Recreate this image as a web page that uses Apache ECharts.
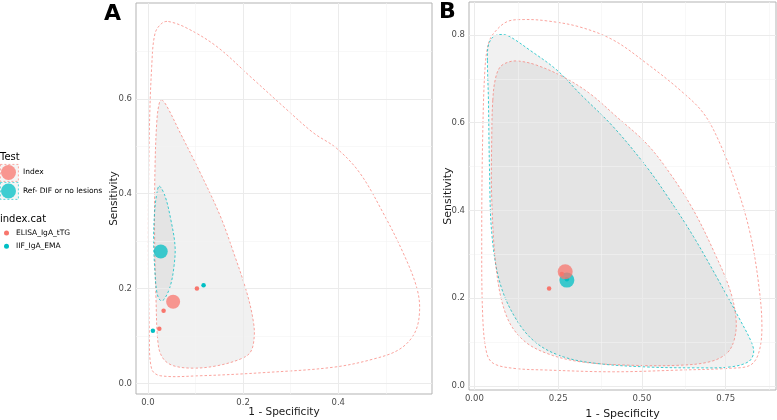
<!DOCTYPE html>
<html>
<head>
<meta charset="utf-8">
<script src="https://cdn.jsdelivr.net/npm/echarts@6/dist/echarts.min.js"></script>
<style>
  html, body { margin: 0; padding: 0; background: #fff; }
  #chart { width: 777px; height: 420px; }
</style>
</head>
<body>
<div id="chart"></div>
<script>
// colours (ggplot default hues)
var RED = '#F8766D';
var CYAN = '#00BFC4';

// ---- panel A data ----
// summary points [1 - specificity, sensitivity]
var aIndex = [[0.053, 0.172]];
var aRef = [[0.027, 0.278]];
var aElisa = [[0.103, 0.200], [0.033, 0.153], [0.024, 0.115]];
var aIif = [[0.117, 0.207], [0.0105, 0.111]];
// prediction region (index)
var aPredIndex = [[0.043,0.763],[0.082,0.749],[0.145,0.710],[0.215,0.647],[0.292,0.577],[0.348,0.528],[0.396,0.496],[0.445,0.444],[0.494,0.360],[0.536,0.276],[0.564,0.205],[0.571,0.156],[0.561,0.107],[0.529,0.072],[0.473,0.051],[0.390,0.034],[0.250,0.023],[0.110,0.016],[0.026,0.016],[0.008,0.030],[0.003,0.107],[0.001,0.318],[0.003,0.528],[0.008,0.668],[0.015,0.738],[0.029,0.759]];
// confidence region (index)
var aConfIndex = [[0.029,0.598],[0.040,0.584],[0.068,0.528],[0.110,0.444],[0.152,0.353],[0.180,0.276],[0.208,0.191],[0.222,0.128],[0.223,0.093],[0.215,0.065],[0.194,0.051],[0.145,0.037],[0.096,0.032],[0.054,0.037],[0.033,0.051],[0.022,0.079],[0.017,0.177],[0.014,0.318],[0.015,0.458],[0.019,0.556],[0.024,0.591]];
// confidence region (reference)
var aConfRef = [[0.024,0.416],[0.036,0.395],[0.048,0.346],[0.057,0.290],[0.055,0.248],[0.047,0.205],[0.034,0.177],[0.026,0.175],[0.019,0.191],[0.014,0.248],[0.012,0.304],[0.014,0.360],[0.019,0.402]];

// ---- panel B data ----
var bIndex = [[0.271, 0.260]];
var bRef = [[0.276, 0.241]];
var bElisa = [[0.261, 0.255], [0.223, 0.222]];
var bIif = [[0.276, 0.243]];
var bPredIndex = [[0.042,0.780],[0.057,0.803],[0.097,0.830],[0.146,0.835],[0.216,0.832],[0.315,0.818],[0.415,0.788],[0.514,0.735],[0.614,0.674],[0.684,0.621],[0.733,0.552],[0.783,0.454],[0.823,0.347],[0.848,0.233],[0.858,0.134],[0.848,0.074],[0.823,0.047],[0.763,0.040],[0.614,0.036],[0.415,0.032],[0.216,0.036],[0.116,0.040],[0.057,0.051],[0.037,0.074],[0.025,0.157],[0.022,0.347],[0.025,0.575],[0.032,0.727]];
var bConfRef = [[0.039,0.742],[0.042,0.777],[0.057,0.796],[0.082,0.801],[0.106,0.796],[0.166,0.765],[0.246,0.720],[0.315,0.666],[0.415,0.590],[0.514,0.499],[0.584,0.423],[0.654,0.340],[0.723,0.248],[0.793,0.150],[0.828,0.097],[0.833,0.074],[0.818,0.055],[0.763,0.043],[0.664,0.041],[0.514,0.043],[0.365,0.051],[0.266,0.066],[0.186,0.097],[0.126,0.150],[0.077,0.233],[0.052,0.347],[0.045,0.499],[0.042,0.651]];
var bConfIndex = [[0.055,0.651],[0.062,0.697],[0.077,0.727],[0.106,0.739],[0.136,0.740],[0.186,0.731],[0.266,0.704],[0.345,0.666],[0.425,0.613],[0.514,0.552],[0.584,0.484],[0.654,0.400],[0.713,0.309],[0.763,0.218],[0.781,0.150],[0.775,0.104],[0.753,0.074],[0.703,0.055],[0.614,0.047],[0.465,0.047],[0.315,0.055],[0.216,0.074],[0.146,0.104],[0.097,0.157],[0.067,0.256],[0.052,0.423],[0.052,0.575]];

// ticks and grid lines
var aXTicks = [0, 0.2, 0.4];
var aYTicks = [0, 0.2, 0.4, 0.6];
var aXMinor = [0.1, 0.3, 0.5];
var aYMinor = [0.1, 0.3, 0.5, 0.7];
var bXTicks = [0, 0.25, 0.5, 0.75];
var bYTicks = [0, 0.2, 0.4, 0.6, 0.8];
var bXMinor = [0.125, 0.375, 0.625, 0.875];
var bYMinor = [0.1, 0.3, 0.5, 0.7];

var chart = echarts.init(document.getElementById('chart'), null, { renderer: 'canvas' });

function region(name, pts, idx, stroke, fill) {
  return {
    type: 'custom', name: name, xAxisIndex: idx, yAxisIndex: idx,
    silent: true, z: 2, data: pts,
    renderItem: function (params, api) {
      if (params.dataIndex !== 0) return null;
      var p = pts.map(function (d) { return api.coord(d); });
      return {
        type: 'polygon',
        shape: { points: p, smooth: 0.35 },
        style: { fill: fill, stroke: stroke, lineWidth: 0.9, lineDash: [2.5, 2] }
      };
    }
  };
}

function gridLines(idx, xs, ys, color, w) {
  var d = [];
  xs.forEach(function (v) { d.push({ xAxis: v }); });
  ys.forEach(function (v) { d.push({ yAxis: v }); });
  return {
    type: 'line', xAxisIndex: idx, yAxisIndex: idx, data: [], z: 0, silent: true,
    markLine: { silent: true, symbol: 'none', animation: false, label: { show: false },
      lineStyle: { color: color, width: w, type: 'solid' }, data: d }
  };
}

function pts(name, data, idx, color, size, alpha) {
  return {
    type: 'scatter', name: name, xAxisIndex: idx, yAxisIndex: idx, z: 5,
    data: data, symbolSize: size,
    itemStyle: { color: color, opacity: alpha }
  };
}

var tickLbl = { color: '#4d4d4d', fontSize: 8.5, fontFamily: 'DejaVu Sans' };

function xAx(idx, min, max, ticks, gap, fs) {
  return {
    type: 'value', gridIndex: idx, min: min, max: max,
    name: '1 - Specificity', nameLocation: 'middle', nameGap: gap, nameMoveOverlap: false,
    nameTextStyle: { color: '#1a1a1a', fontSize: fs, fontFamily: 'DejaVu Sans' },
    axisLine: { show: false },
    axisTick: { show: true, length: 3, lineStyle: { color: '#333' }, customValues: ticks },
    axisLabel: Object.assign({ margin: 4, customValues: ticks, formatter: idx ? function (v) { return v.toFixed(2); } : function (v) { return v.toFixed(1); } }, tickLbl),
    splitLine: { show: false }
  };
}
function yAx(idx, min, max, ticks, gap, fs) {
  return {
    type: 'value', gridIndex: idx, min: min, max: max,
    name: 'Sensitivity', nameLocation: 'middle', nameGap: gap, nameMoveOverlap: false,
    nameTextStyle: { color: '#1a1a1a', fontSize: fs, fontFamily: 'DejaVu Sans' },
    axisLine: { show: false },
    axisTick: { show: true, length: 3, lineStyle: { color: '#333' }, customValues: ticks },
    axisLabel: Object.assign({ margin: 4, customValues: ticks, formatter: function (v) { return v.toFixed(1); } }, tickLbl),
    splitLine: { show: false }
  };
}

var fillGrey = 'rgba(90,90,90,0.085)';

var option = {
  backgroundColor: '#fff',
  animation: false,
  title: [
    { text: 'A', left: 104, top: 3, padding: 0, textStyle: { fontSize: 22, fontWeight: 'bold', color: '#000', fontFamily: 'DejaVu Sans' } },
    { text: 'B', left: 439, top: 1, padding: 0, textStyle: { fontSize: 22, fontWeight: 'bold', color: '#000', fontFamily: 'DejaVu Sans' } },
    { text: 'Test', left: 0, top: 152, padding: 0, textStyle: { fontSize: 10, fontWeight: 'normal', color: '#000', fontFamily: 'DejaVu Sans' } },
    { text: 'index.cat', left: 0, top: 214, padding: 0, textStyle: { fontSize: 10, fontWeight: 'normal', color: '#000', fontFamily: 'DejaVu Sans' } }
  ],
  legend: [
    { data: ['Index', 'Ref- DIF or no lesions'], orient: 'vertical', left: 1, top: 165, padding: 0,
      icon: 'circle', itemWidth: 15, itemHeight: 15, itemGap: 3.5, selectedMode: false,
      textStyle: { fontSize: 7.5, color: '#000', fontFamily: 'DejaVu Sans', padding: [0, 0, 0, 2] } },
    { data: ['ELISA_IgA_tTG', 'IIF_IgA_EMA'], orient: 'vertical', left: 4, top: 229, padding: 0,
      icon: 'circle', itemWidth: 5, itemHeight: 5, itemGap: 5.3, selectedMode: false,
      textStyle: { fontSize: 7.5, color: '#000', fontFamily: 'DejaVu Sans', padding: [0, 0, 0, 2] } }
  ],
  graphic: [
    { type: 'rect', left: 0, top: 164, shape: { width: 18, height: 17 }, z: -1,
      style: { fill: '#f2f2f2', stroke: RED, lineWidth: 0.8, lineDash: [2, 2], opacity: 0.8 } },
    { type: 'rect', left: 0, top: 182, shape: { width: 18, height: 17 }, z: -1,
      style: { fill: '#f2f2f2', stroke: CYAN, lineWidth: 0.8, lineDash: [2, 2], opacity: 0.8 } }
  ],
  grid: [
    { left: 136, top: 3, width: 296, height: 391, show: true, borderColor: '#b3b3b3', borderWidth: 1,
      backgroundColor: 'transparent', outerBoundsMode: 'none', containLabel: false },
    { left: 469, top: 2, width: 307, height: 388, show: true, borderColor: '#b3b3b3', borderWidth: 1,
      backgroundColor: 'transparent', outerBoundsMode: 'none', containLabel: false }
  ],
  xAxis: [xAx(0, -0.025, 0.597, aXTicks, 12.5, 10.5), xAx(1, -0.016, 0.9, bXTicks, 19, 11)],
  yAxis: [yAx(0, -0.0225, 0.802, aYTicks, 16, 10.5), yAx(1, -0.0095, 0.875, bYTicks, 15.5, 11)],
  series: [
    gridLines(0, aXMinor, aYMinor, '#f4f4f4', 0.6),
    gridLines(0, aXTicks, aYTicks, '#ebebeb', 1),
    gridLines(1, bXMinor, bYMinor, '#f4f4f4', 0.6),
    gridLines(1, bXTicks, bYTicks, '#ebebeb', 1),

    region('predA', aPredIndex, 0, 'rgba(248,118,109,0.75)', 'rgba(0,0,0,0)'),
    region('confA', aConfIndex, 0, 'rgba(248,118,109,0.75)', fillGrey),
    region('refA', aConfRef, 0, 'rgba(0,191,196,0.85)', fillGrey),

    region('predB', bPredIndex, 1, 'rgba(248,118,109,0.75)', 'rgba(0,0,0,0)'),
    region('refB', bConfRef, 1, 'rgba(0,191,196,0.85)', fillGrey),
    region('confB', bConfIndex, 1, 'rgba(248,118,109,0.75)', fillGrey),

    pts('Index', aIndex, 0, RED, 14, 0.75),
    pts('Ref- DIF or no lesions', aRef, 0, CYAN, 14, 0.75),
    pts('ELISA_IgA_tTG', aElisa, 0, RED, 4.5, 1),
    pts('IIF_IgA_EMA', aIif, 0, CYAN, 4.5, 1),

    pts('IIF_IgA_EMA', bIif, 1, CYAN, 4.5, 1),
    pts('Ref- DIF or no lesions', bRef, 1, CYAN, 15, 0.75),
    pts('Index', bIndex, 1, RED, 15, 0.75),
    pts('ELISA_IgA_tTG', bElisa, 1, RED, 4.5, 1)
  ]
};

chart.setOption(option);
</script>
</body>
</html>
